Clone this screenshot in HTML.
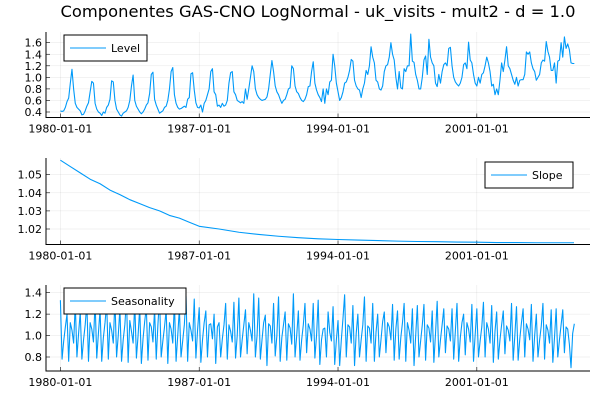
<!DOCTYPE html>
<html><head><meta charset="utf-8">
<style>
html,body{margin:0;padding:0;background:#fff;}
svg{display:block;font-family:"DejaVu Sans","Liberation Sans",sans-serif;}
</style></head>
<body>
<svg id="chart" width="600" height="400" viewBox="0 0 600 400">
<text x="318" y="17" font-size="16" text-anchor="middle" textLength="515" lengthAdjust="spacingAndGlyphs" fill="#000">Componentes GAS-CNO LogNormal - uk_visits - mult2 - d = 1.0</text>
</svg>
<script>
// ---- data ----
const startYear = 1980;
const xTickLabels = ["1980-01-01","1987-01-01","1994-01-01","2001-01-01"];
const xTickYears = [1980,1987,1994,2001];
const levelValues = [
.42,.41,.42,.48,.58,.64,.90,1.14,.80,.55,.48,.45,
.42,.35,.36,.42,.50,.56,.75,.93,.90,.55,.45,.40,
.38,.34,.40,.38,.48,.52,.62,.94,.92,.60,.45,.40,
.35,.33,.38,.40,.42,.48,.60,.85,1.04,.60,.50,.45,
.40,.37,.40,.45,.52,.56,.72,1.05,1.09,.62,.52,.45,
.38,.40,.42,.48,.50,.60,.80,1.10,1.17,.70,.55,.48,
.45,.46,.48,.50,.48,.62,.65,1.06,1.08,.78,.56,.48,
.47,.52,.40,.55,.60,.70,.80,1.10,1.15,.75,.70,.50,
.52,.48,.55,.50,.52,.60,.90,1.08,1.10,.75,.70,.60,
.58,.56,.58,.55,.80,.62,.80,1.00,1.20,1.10,.80,.70,
.65,.62,.60,.61,.62,.66,.80,1.05,1.29,1.10,.85,.75,
.70,.62,.55,.60,.62,.70,.80,.82,1.20,1.15,.85,.75,
.72,.65,.60,.58,.62,.70,.84,.85,1.10,1.27,.90,.78,
.70,.65,.58,.80,.55,.80,.70,.92,.95,1.40,1.20,.90,
.75,.60,.65,.75,.90,.92,1.00,1.12,1.31,1.28,.95,.85,
.80,.78,.65,.80,.90,1.12,1.05,1.20,1.53,1.35,1.25,.95,
.92,.80,.78,.85,1.10,1.20,1.22,1.35,1.60,1.40,1.30,1.00,
.80,1.10,.82,.80,1.15,1.10,1.20,1.20,1.75,1.28,1.26,1.05,
.95,.80,.80,1.00,1.30,1.37,1.05,1.66,1.35,1.25,1.20,.90,
.84,1.05,.90,1.10,1.22,1.25,1.20,1.50,1.52,1.20,1.00,.92,
.88,.85,.90,1.00,1.22,1.25,1.15,1.61,1.30,1.25,1.05,.90,
.85,1.00,.90,1.05,1.08,1.20,1.35,1.25,1.10,.85,.88,.70,
.80,.70,.95,1.25,1.10,1.30,1.53,1.20,1.15,1.05,.95,.88,
1.00,.85,.95,.96,.96,1.05,1.44,1.40,1.44,1.25,1.15,1.10,
.95,1.00,1.05,1.25,1.30,1.28,1.62,1.45,1.35,1.12,1.12,1.25,
.90,1.28,1.30,1.60,1.35,1.70,1.50,1.58,1.48,1.25,1.24,1.24];
const slopeYears = [1980,1980.5,1981,1981.5,1982,1982.5,1983,1983.5,1984,1984.5,1985,1985.5,1986,1986.5,1987,1988,1989,1990,1991,1992,1993,1994,1995,1996,1997,1998,1999,2000,2001,2002,2003,2004,2005,2005.9];
const slopeValues = [1.058,1.0545,1.051,1.0475,1.045,1.0415,1.039,1.0362,1.034,1.0318,1.030,1.0275,1.026,1.0237,1.0215,1.0200,1.0182,1.0170,1.0160,1.0152,1.0146,1.0142,1.0139,1.0136,1.0133,1.0131,1.0130,1.0128,1.0127,1.0125,1.0125,1.0124,1.0124,1.0124];
const seasonValues = [
1.33,0.78,0.95,1.08,1.20,0.76,1.12,1.05,0.93,1.30,0.80,1.02,
1.22,0.78,0.96,1.10,1.30,0.76,1.12,1.06,0.94,1.32,0.79,1.02,
1.24,0.76,0.98,1.12,1.30,0.78,1.12,1.05,0.93,1.34,0.80,1.00,
1.25,0.76,0.96,1.10,1.34,0.75,1.14,1.04,0.93,1.31,0.79,1.00,
1.26,0.74,0.97,1.13,1.26,0.77,1.12,1.08,0.94,1.25,0.78,1.10,
1.35,0.80,0.95,1.08,1.24,0.74,1.12,1.06,0.93,1.31,0.76,1.00,
1.25,0.80,0.95,1.10,1.37,0.76,1.12,1.05,0.95,1.34,0.79,1.05,
1.26,0.75,0.96,1.12,1.23,0.80,1.10,1.11,0.97,1.20,0.74,1.08,
1.12,0.80,0.97,1.10,1.30,0.78,1.10,1.04,0.94,1.31,0.79,1.00,
1.35,0.80,0.96,1.10,1.24,0.83,1.12,1.05,0.95,1.39,0.80,1.00,
1.35,0.78,0.96,1.12,1.19,0.72,1.11,1.09,0.93,1.30,0.81,1.00,
1.36,0.76,0.98,1.10,1.22,0.77,1.11,1.07,0.92,1.39,0.80,1.00,
1.23,0.77,0.96,1.10,1.30,0.84,1.11,1.06,0.95,1.30,0.79,1.00,
1.33,0.73,0.96,1.06,1.07,0.80,1.22,1.03,0.95,1.27,0.73,0.96,
1.14,0.72,0.96,1.16,1.38,0.80,1.10,1.08,0.93,1.28,0.72,1.02,
1.20,0.80,0.96,1.10,1.36,0.76,1.09,1.07,0.93,1.30,0.76,1.03,
1.20,0.80,0.96,1.13,1.22,0.84,1.12,1.08,0.96,1.29,0.77,1.06,
1.23,0.78,0.98,1.12,1.30,0.76,1.12,1.05,0.93,1.25,0.72,1.00,
1.28,0.80,0.95,1.10,1.29,0.77,1.10,1.07,0.94,1.23,0.75,1.02,
1.32,0.80,0.96,1.10,1.25,0.84,1.09,1.06,0.95,1.25,0.78,1.04,
1.30,0.76,0.98,1.12,1.20,0.82,1.12,1.06,0.94,1.29,0.76,1.01,
1.25,0.80,0.95,1.08,1.31,0.80,1.12,1.06,0.93,1.28,0.75,1.04,
1.22,0.78,0.96,1.10,1.23,0.83,1.09,1.05,0.95,1.30,0.77,1.00,
1.27,0.77,0.97,1.12,1.25,0.80,1.11,1.06,0.96,1.29,0.76,1.00,
1.20,0.80,0.96,1.09,1.30,0.78,1.10,1.05,0.93,1.24,0.75,0.98,
1.25,0.80,0.96,1.10,1.24,0.84,1.08,1.06,0.92,0.70,1.02,1.11];
const levelTicks = [0.4,0.6,0.8,1.0,1.2,1.4,1.6];
const slopeTicks = [1.02,1.03,1.04,1.05];
const seasonTicks = [0.8,1.0,1.2,1.4];

// ---- rendering ----
const NS = "http://www.w3.org/2000/svg";
const svg = document.getElementById("chart");
const X0 = 46, X1 = 590;
const xScale = t => 60.4 + (t - startYear) * 19.83;
function mk(tag, attrs, parent) {
  const e = document.createElementNS(NS, tag);
  for (const k in attrs) e.setAttribute(k, attrs[k]);
  (parent || svg).appendChild(e);
  return e;
}
function panel(cfg) {
  const g = mk("g", {});
  
  
  const ys = v => cfg.yRef + (v - cfg.vRef) * cfg.pxPer;
  xTickYears.forEach((yr, i) => {
    const x = xScale(yr);
    const gl = mk("line", {x1:x, x2:x, y1:cfg.top, y2:cfg.bottom, stroke:"#000", "stroke-opacity":0.1, "stroke-width":0.5}, g);
    
    
    const tk = mk("line", {x1:x, x2:x, y1:cfg.bottom, y2:cfg.bottom-4, stroke:"#000", "stroke-width":0.6}, g);
    
    
    const tl = mk("text", {x:x, y:cfg.bottom+15, "font-size":11, "text-anchor":"middle", fill:"#000"}, g);
    tl.textContent = xTickLabels[i];
    
    
  });
  cfg.ticks.forEach(v => {
    const y = ys(v);
    const gl = mk("line", {x1:X0, x2:X1, y1:y, y2:y, stroke:"#000", "stroke-opacity":0.1, "stroke-width":0.5}, g);
    
    
    const tk = mk("line", {x1:X0, x2:X0+4, y1:y, y2:y, stroke:"#000", "stroke-width":0.6}, g);
    
    
    const tl = mk("text", {x:X0-4, y:y+4, "font-size":11, "text-anchor":"end", fill:"#000"}, g);
    tl.textContent = cfg.fmt(v);
    
    
  });
  const ax = mk("path", {d:`M${X0},${cfg.top} V${cfg.bottom} H${X1}`, fill:"none", stroke:"#000", "stroke-width":1}, g);
  
  
  const pts = cfg.xs.map((t, i) => xScale(t).toFixed(2) + "," + ys(cfg.vals[i]).toFixed(2)).join(" ");
  const line = mk("polyline", {points:pts, fill:"none", stroke:"#009af9", "stroke-width":1.1, "stroke-linejoin":"round"}, g);
  
  
  const L = cfg.legend;
  const lg = mk("g", {}, g);
  
  
  mk("rect", {x:L.x, y:L.y, width:L.w, height:26, fill:"#fff", stroke:"#000", "stroke-width":1}, lg);
  mk("line", {x1:L.x+6, x2:L.x+42, y1:L.y+13, y2:L.y+13, stroke:"#009af9", "stroke-width":1.1}, lg);
  const lt = mk("text", {x:L.x+47, y:L.y+17, "font-size":11, fill:"#000"}, lg);
  lt.textContent = cfg.label;
}
const monthX = levelValues.map((_, i) => startYear + i / 12);
panel({name:"level", label:"Level", top:32, bottom:117.5, yRef:112, vRef:0.4, pxPer:-57.75,
  ticks:levelTicks, fmt:v=>v.toFixed(1), xs:monthX, vals:levelValues, legend:{x:64,y:35,w:83}});
panel({name:"slope", label:"Slope", top:158, bottom:244.5, yRef:229, vRef:1.02, pxPer:-1810,
  ticks:slopeTicks, fmt:v=>v.toFixed(2), xs:slopeYears, vals:slopeValues, legend:{x:485,y:162,w:88}});
panel({name:"seasonality", label:"Seasonality", top:285, bottom:371, yRef:357, vRef:0.8, pxPer:-107.2,
  ticks:seasonTicks, fmt:v=>v.toFixed(1), xs:seasonValues.map((_, i) => startYear + i / 12), vals:seasonValues, legend:{x:64,y:288,w:122}});
</script>
</body></html>
